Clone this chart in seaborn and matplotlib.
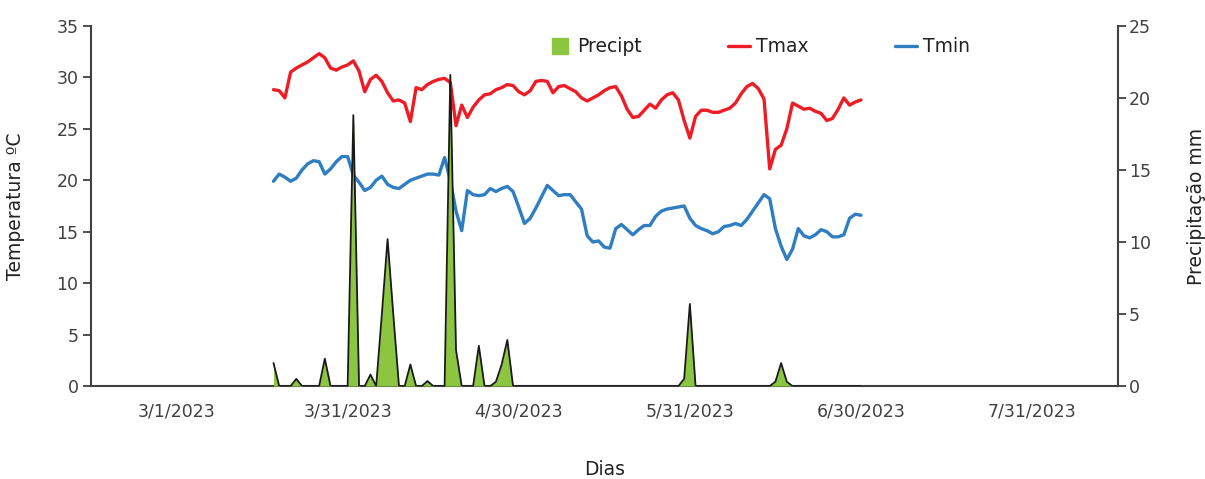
import matplotlib
matplotlib.use("Agg")
import matplotlib.pyplot as plt
from matplotlib.lines import Line2D
import numpy as np
import pandas as pd
import seaborn as sns

# Daily series, 18 Mar 2023 - 29 Jun 2023
start_date = "2023-03-18"
axis_origin = "2023-03-01"

tmax = [28.8, 28.7, 28.0, 30.5, 30.9, 31.2, 31.5, 31.9, 32.3, 31.9,
        30.9, 30.7, 31.0, 31.2, 31.6, 30.6, 28.6, 29.8, 30.2, 29.6,
        28.5, 27.7, 27.8, 27.5, 25.7, 29.0, 28.8, 29.3, 29.6, 29.8,
        29.9, 29.5, 25.3, 27.3, 26.1, 27.1, 27.8, 28.3, 28.4, 28.8,
        29.0, 29.3, 29.2, 28.6, 28.3, 28.7, 29.6, 29.7, 29.6, 28.5,
        29.1, 29.2, 28.9, 28.6, 28.0, 27.7, 28.0, 28.3, 28.7, 29.0,
        29.1, 28.2, 26.9, 26.1, 26.2, 26.8, 27.4, 27.0, 27.8, 28.3,
        28.5, 27.8, 25.8, 24.1, 26.2, 26.8, 26.8, 26.6, 26.6, 26.8,
        27.0, 27.5, 28.4, 29.1, 29.4, 28.9, 27.9, 21.1, 23.0, 23.4,
        25.0, 27.5, 27.2, 26.9, 27.0, 26.7, 26.5, 25.8, 26.0, 26.9,
        28.0, 27.3, 27.6, 27.8]

tmin = [19.9, 20.6, 20.3, 19.9, 20.2, 21.0, 21.6, 21.9, 21.8, 20.6,
        21.1, 21.8, 22.3, 22.3, 20.5, 19.8, 19.0, 19.3, 20.0, 20.4,
        19.6, 19.3, 19.2, 19.6, 20.0, 20.2, 20.4, 20.6, 20.6, 20.5,
        22.2, 20.0, 17.0, 15.1, 19.0, 18.6, 18.5, 18.6, 19.2, 18.9,
        19.2, 19.4, 18.9, 17.4, 15.8, 16.3, 17.3, 18.4, 19.5, 19.0,
        18.5, 18.6, 18.6, 17.9, 17.2, 14.6, 14.0, 14.1, 13.5, 13.4,
        15.3, 15.7, 15.2, 14.7, 15.2, 15.6, 15.6, 16.5, 17.0, 17.2,
        17.3, 17.4, 17.5, 16.3, 15.6, 15.3, 15.1, 14.8, 15.0, 15.5,
        15.6, 15.8, 15.6, 16.2, 17.0, 17.8, 18.6, 18.2, 15.3, 13.6,
        12.3, 13.3, 15.3, 14.6, 14.4, 14.7, 15.2, 15.0, 14.5, 14.5,
        14.7, 16.3, 16.7, 16.6]

precip = [1.6, 0, 0, 0, 0.5, 0, 0, 0, 0, 1.9,
          0, 0, 0, 0, 18.8, 0, 0, 0.8, 0, 5.0,
          10.2, 5.0, 0, 0, 1.5, 0, 0, 0.35, 0, 0,
          0, 21.6, 2.5, 0, 0, 0, 2.8, 0, 0, 0.3,
          1.5, 3.2, 0] + [0] * 29 + [0.5, 5.7] + [0] * 14 + [0.3, 1.6, 0.3] + [0] * 13

tick_labels = ["3/1/2023", "3/31/2023", "4/30/2023", "5/31/2023", "6/30/2023", "7/31/2023"]
label_days = [0, 30, 60, 90, 120, 150]

dates = pd.date_range(start_date, periods=len(tmax), freq="D")
df = pd.DataFrame({
    "day": (dates - pd.Timestamp(axis_origin)).days,
    "Tmax": tmax,
    "Tmin": tmin,
    "Precipt": precip,
})

sns.set_style("white")
plt.rcParams["font.family"] = ["DejaVu Sans"]
text_color = "#404040"
red = "#EE1C25"
blue = "#2E7EC1"
green = "#8CC540"

fig = plt.figure(figsize=(12.05, 4.79), dpi=100)
ax = fig.add_axes([0.0755, 0.194, 0.852, 0.752])

sns.lineplot(data=df, x="day", y="Tmax", ax=ax, color=red, linewidth=2.4, legend=False)
sns.lineplot(data=df, x="day", y="Tmin", ax=ax, color=blue, linewidth=2.4, legend=False)

ax.set_xlim(-15, 165)
ax.set_ylim(0, 35)
ax.set_yticks(np.arange(0, 36, 5))
ax.set_ylabel("Temperatura ºC", fontsize=13.5, color="#222222")
ax.yaxis.set_label_coords(-0.064, 0.5)
ax.set_xlabel("Dias", fontsize=13.5, color="#222222", labelpad=28)

# Boundary ticks between labelled periods, labels centred between them
ax.set_xticks(np.arange(-15, 166, 30))
ax.set_xticklabels([])
ax.set_xticks(label_days, minor=True)
ax.set_xticklabels(tick_labels, minor=True)
ax.tick_params(axis="x", which="major", direction="inout", length=12, width=1.3, color=text_color)
ax.tick_params(axis="x", which="minor", length=0, pad=12, labelsize=12.5, labelcolor=text_color)
ax.tick_params(axis="y", direction="out", length=6, width=1.3, color=text_color,
               labelsize=12.5, labelcolor=text_color, pad=3)

ax2 = ax.twinx()
ax2.fill_between(df["day"], df["Precipt"], 0, color=green, linewidth=0)
sns.lineplot(data=df, x="day", y="Precipt", ax=ax2, color="#1a1a1a", linewidth=1.3, legend=False)
ax2.set_ylim(0, 25)
ax2.set_yticks(np.arange(0, 26, 5))
ax2.set_ylabel("Precipitação mm", fontsize=13.5, color="#222222")
ax2.yaxis.set_label_coords(1.068, 0.5)
ax2.tick_params(axis="y", direction="out", length=6, width=1.3, color=text_color,
                labelsize=12.5, labelcolor=text_color, pad=2)

for a in (ax, ax2):
    a.spines["top"].set_visible(False)
    for s in ("left", "right", "bottom"):
        a.spines[s].set_color(text_color)
        a.spines[s].set_linewidth(1.5)
ax.spines["right"].set_visible(False)
ax2.spines["left"].set_visible(False)
ax2.spines["bottom"].set_visible(False)

handles = [
    Line2D([], [], marker="s", linestyle="none", markersize=11, color=green),
    Line2D([], [], color=red, linewidth=2.4),
    Line2D([], [], color=blue, linewidth=2.4),
]
fig.legend(handles, ["Precipt", "Tmax", "Tmin"], loc="center",
           bbox_to_anchor=(0.630, 0.902), ncol=3, frameon=False,
           fontsize=13.5, handlelength=1.2, handletextpad=0.3,
           columnspacing=4.6, labelcolor="#222222")

fig.savefig("out.png", dpi=100, facecolor="white")
